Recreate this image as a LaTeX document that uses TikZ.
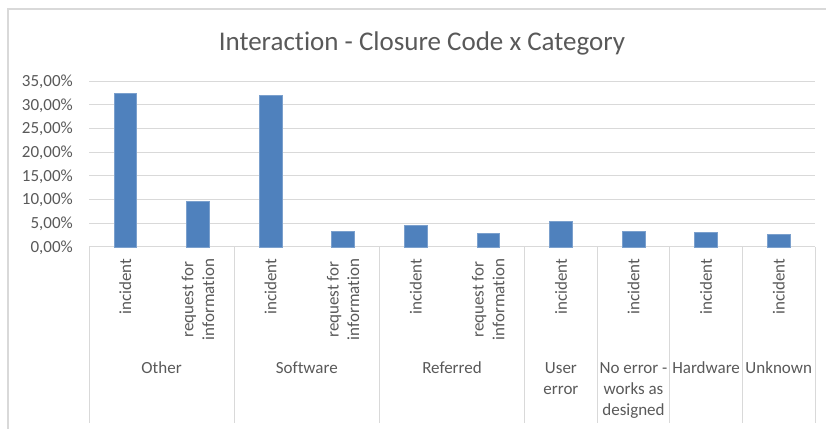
\documentclass[tikz,border=0pt]{standalone}
\usepackage{fontspec}
\setmainfont[Ligatures={NoCommon,NoContextual}]{Carlito}
\definecolor{barblue}{RGB}{79,129,189}
\definecolor{txtgray}{RGB}{89,89,89}
\definecolor{linegray}{RGB}{217,217,217}
\tikzset{
  frame/.style={draw=linegray, line width=1.5pt},
  gridline/.style={draw=linegray, line width=1pt},
  bar/.style={fill=barblue, draw=barblue!75!white, line width=0.6pt},
  titlelab/.style={text=txtgray, font=\fontsize{27}{32}\selectfont, inner sep=0pt, anchor=base},
  ticklab/.style={text=txtgray, font=\fontsize{17}{20.7}\selectfont, inner sep=0pt, anchor=base east},
  catlab/.style={text=txtgray, font=\fontsize{17}{20.7}\selectfont, inner sep=0pt, rotate=90, anchor=east, align=center},
  grouplab/.style={text=txtgray, font=\fontsize{17}{20.7}\selectfont, inner sep=0pt, anchor=north, align=center}
}
\newcommand{\topstrut}{\rule{0pt}{13pt}}
\begin{document}
\begin{tikzpicture}[x=1pt, y=-1pt]
\useasboundingbox (0,0) rectangle (826,428);
\clip (0,0) rectangle (826,428);
% chart frame (runs past the right and bottom edges)
\draw[frame] (8,9) rectangle (850,450);
% title
\node[titlelab] (title) at (422,50.7) {Interaction - Closure Code x Category};
% value gridlines and tick labels
\foreach \v/\lab in {0/{0,00\%},5/{5,00\%},10/{10,00\%},15/{15,00\%},20/{20,00\%},25/{25,00\%},30/{30,00\%},35/{35,00\%}} {
  \pgfmathsetmacro{\yy}{246.8-4.737*\v}
  \draw[gridline] (89,\yy) -- (815,\yy);
  \node[ticklab] (tick\v) at (73,\yy+5.4) {\lab};
}
% category dividers
\foreach \k in {0,2,4,6,7,8,9,10} {
  \draw[gridline] ({89+72.6*\k},246.8) -- ({89+72.6*\k},423);
}
% bars
\foreach \i/\v in {0/32.4,1/9.55,2/32.0,3/3.3,4/4.49,5/2.86,6/5.43,7/3.29,8/3.1,9/2.71} {
  \pgfmathsetmacro{\cx}{89+72.6*(\i+0.5)}
  \fill[bar] (\cx-11.4,246.8) rectangle (\cx+11.4,{246.8-4.737*\v});
}
% closure code labels
\foreach \i/\lab in {0/incident,1/{request for\\information},2/incident,3/{request for\\information},4/incident,5/{request for\\information},6/incident,7/incident,8/incident,9/incident} {
  \node[catlab] (code\i) at ({89+72.6*(\i+0.5)},258.5) {\lab};
}
% category labels
\node[grouplab] (gOther) at ({89+72.6*1},360.5) {\topstrut Other};
\node[grouplab] (gSoftware) at ({89+72.6*3},360.5) {\topstrut Software};
\node[grouplab] (gReferred) at ({89+72.6*5},360.5) {\topstrut Referred};
\node[grouplab] (gUser) at ({89+72.6*6.5},360.5) {\topstrut User\\error};
\node[grouplab] (gNoerr) at ({89+72.6*7.5},360.5) {\topstrut No error -\\works as\\designed};
\node[grouplab] (gHardware) at ({89+72.6*8.5},360.5) {\topstrut Hardware};
\node[grouplab] (gUnknown) at ({89+72.6*9.5},360.5) {\topstrut Unknown};
\end{tikzpicture}
\end{document}
